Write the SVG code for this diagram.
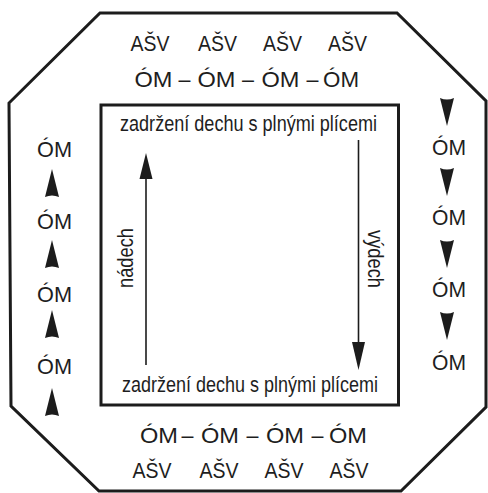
<svg xmlns="http://www.w3.org/2000/svg" width="488" height="493" viewBox="0 0 488 493">
  <style>
    .frame { fill: none; stroke: #1c1c1c; stroke-width: 3; stroke-linejoin: miter; }
    .lbl { font-family: "Liberation Sans", Arial, sans-serif; font-size: 21.5px; fill: #1e1e1e; text-anchor: middle; }
    .txt { font-family: "Liberation Sans", Arial, sans-serif; font-size: 22px; fill: #1e1e1e; text-anchor: middle; }
    .line { stroke: #1c1c1c; stroke-width: 1.6; fill: none; }
    .head { fill: #1c1c1c; }
  </style>
  <defs>
    <!-- slender arrowheads, tip at origin -->
    <path id="tri-up" d="M0,0 L7,28 Q0,25 -7,28 Z"/>
    <path id="tri-down" d="M0,0 L7,-28 Q0,-25 -7,-28 Z"/>
    <path id="head-up" d="M0,0 L6.5,26 L-6.5,26 Z"/>
    <path id="head-down" d="M0,0 L6.5,-28 L-6.5,-28 Z"/>
  </defs>

  <rect width="488" height="493" fill="#ffffff"/>

  <!-- outer octagon and inner box -->
  <g id="outer-frame">
    <polygon class="frame" points="100,13 397,13 486,101 486,407 401,491 99,491 11,406 9,103"/>
  </g>
  <g id="inner-box">
    <rect class="frame" x="101" y="105" width="297.5" height="300"/>
  </g>

  <!-- top rows -->
  <g id="top-asv">
    <text class="lbl" x="150" y="51" textLength="39" lengthAdjust="spacingAndGlyphs">AŠV</text>
    <text class="lbl" x="217.5" y="51" textLength="39" lengthAdjust="spacingAndGlyphs">AŠV</text>
    <text class="lbl" x="282.5" y="51" textLength="39" lengthAdjust="spacingAndGlyphs">AŠV</text>
    <text class="lbl" x="347.5" y="51" textLength="39" lengthAdjust="spacingAndGlyphs">AŠV</text>
  </g>
  <g id="top-om">
    <text class="lbl" x="153.5" y="87" textLength="38" lengthAdjust="spacingAndGlyphs">ÓM</text>
    <text class="lbl" x="184.5" y="87">–</text>
    <text class="lbl" x="216.5" y="87" textLength="38" lengthAdjust="spacingAndGlyphs">ÓM</text>
    <text class="lbl" x="248" y="87">–</text>
    <text class="lbl" x="280.5" y="87" textLength="38" lengthAdjust="spacingAndGlyphs">ÓM</text>
    <text class="lbl" x="312.5" y="87">–</text>
    <text class="lbl" x="341" y="87" textLength="36" lengthAdjust="spacingAndGlyphs">ÓM</text>
  </g>

  <!-- bottom rows -->
  <g id="bottom-om">
    <text class="lbl" x="159" y="443" textLength="38" lengthAdjust="spacingAndGlyphs">ÓM</text>
    <text class="lbl" x="187.5" y="443">–</text>
    <text class="lbl" x="220" y="443" textLength="38" lengthAdjust="spacingAndGlyphs">ÓM</text>
    <text class="lbl" x="252.5" y="443">–</text>
    <text class="lbl" x="285" y="443" textLength="38" lengthAdjust="spacingAndGlyphs">ÓM</text>
    <text class="lbl" x="317.5" y="443">–</text>
    <text class="lbl" x="348" y="443" textLength="38" lengthAdjust="spacingAndGlyphs">ÓM</text>
  </g>
  <g id="bottom-asv">
    <text class="lbl" x="152" y="478" textLength="39" lengthAdjust="spacingAndGlyphs">AŠV</text>
    <text class="lbl" x="219" y="478" textLength="39" lengthAdjust="spacingAndGlyphs">AŠV</text>
    <text class="lbl" x="284" y="478" textLength="39" lengthAdjust="spacingAndGlyphs">AŠV</text>
    <text class="lbl" x="349" y="478" textLength="39" lengthAdjust="spacingAndGlyphs">AŠV</text>
  </g>

  <!-- left column -->
  <g id="left-om">
    <text class="lbl" x="54.5" y="157" textLength="35" lengthAdjust="spacingAndGlyphs">ÓM</text>
    <text class="lbl" x="54.5" y="229" textLength="35" lengthAdjust="spacingAndGlyphs">ÓM</text>
    <text class="lbl" x="54.5" y="302" textLength="35" lengthAdjust="spacingAndGlyphs">ÓM</text>
    <text class="lbl" x="54.5" y="374" textLength="35" lengthAdjust="spacingAndGlyphs">ÓM</text>
  </g>

  <!-- right column -->
  <g id="right-om">
    <text class="lbl" x="449" y="155" textLength="34" lengthAdjust="spacingAndGlyphs">ÓM</text>
    <text class="lbl" x="449" y="225" textLength="34" lengthAdjust="spacingAndGlyphs">ÓM</text>
    <text class="lbl" x="449" y="297" textLength="34" lengthAdjust="spacingAndGlyphs">ÓM</text>
    <text class="lbl" x="449" y="370" textLength="34" lengthAdjust="spacingAndGlyphs">ÓM</text>
  </g>

  <!-- inner labels -->
  <g id="hold-top">
    <text class="txt" x="248.5" y="131" textLength="257" lengthAdjust="spacingAndGlyphs">zadržení dechu s plnými plícemi</text>
  </g>
  <g id="hold-bottom">
    <text class="txt" x="250" y="392" textLength="256" lengthAdjust="spacingAndGlyphs">zadržení dechu s plnými plícemi</text>
  </g>
  <g id="inhale">
    <text class="txt" transform="translate(133,258) rotate(-90)" x="0" y="0" textLength="60" lengthAdjust="spacingAndGlyphs">nádech</text>
  </g>
  <g id="exhale">
    <text class="txt" transform="translate(368,259) rotate(90)" x="0" y="0" textLength="58" lengthAdjust="spacingAndGlyphs">výdech</text>
  </g>

  <!-- connectors -->
  <g id="connectors">
    <line class="line" x1="146" y1="365" x2="146" y2="170"/>
    <use href="#head-up" class="head" x="146" y="153"/>
    <line class="line" x1="358.5" y1="140" x2="358.5" y2="350"/>
    <use href="#head-down" class="head" x="358.5" y="370"/>

    <use href="#tri-up" class="head" x="52" y="169"/>
    <use href="#tri-up" class="head" x="52" y="240"/>
    <use href="#tri-up" class="head" x="52" y="310"/>
    <use href="#tri-up" class="head" x="52" y="388"/>

    <use href="#tri-down" class="head" x="447" y="126"/>
    <use href="#tri-down" class="head" x="447" y="196"/>
    <use href="#tri-down" class="head" x="447" y="268"/>
    <use href="#tri-down" class="head" x="447" y="340"/>
  </g>
</svg>
